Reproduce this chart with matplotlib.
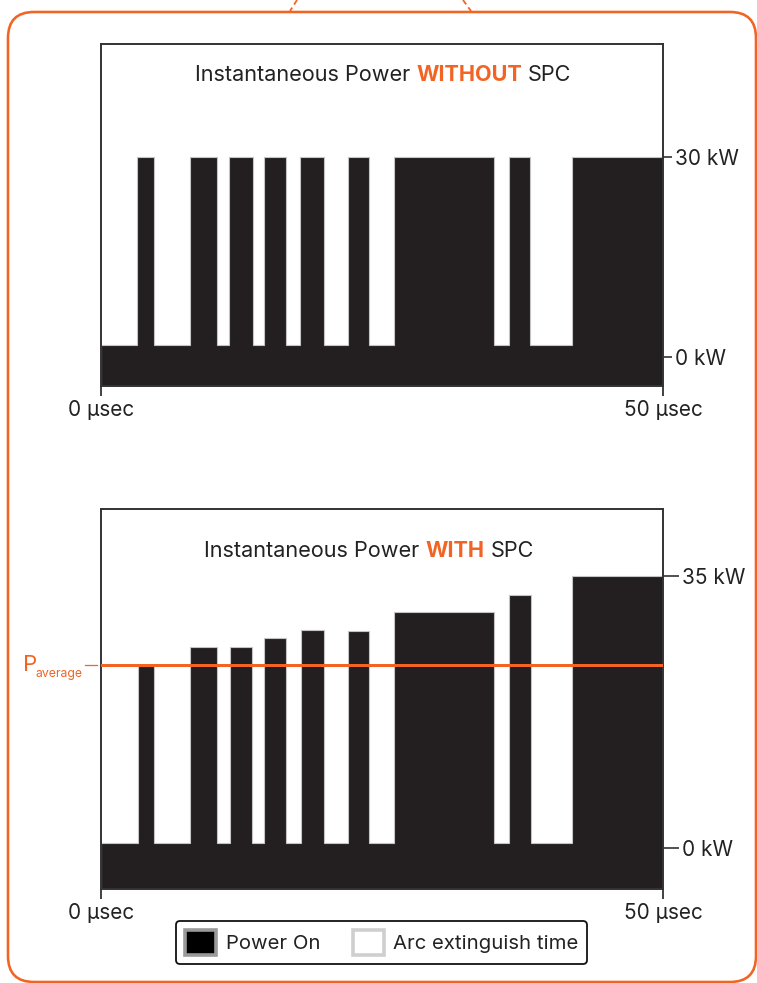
import numpy as np
import matplotlib
matplotlib.use("Agg")
import matplotlib.pyplot as plt
import matplotlib.patches as mpatches
import matplotlib.lines as mlines
from matplotlib.transforms import IdentityTransform, blended_transform_factory

plt.rcParams['font.family'] = ['Inter', 'DejaVu Sans']

# ── data (µsec / kW) ─────────────────────────────────────────────
T_MAX = 50
top_on_start = [3.2, 7.9, 11.4, 14.5, 17.7, 21.95, 26.1, 36.3, 41.9]
top_on_end = [4.7, 10.3, 13.5, 16.45, 19.85, 23.85, 35.0, 38.15, 50]
top_on_level = [30, 30, 30, 30, 30, 30, 30, 30, 30]
top_idle = 1.8

bot_on_start = [3.25, 7.9, 11.45, 14.5, 17.75, 21.95, 26.1, 36.3, 41.9]
bot_on_end = [4.7, 10.35, 13.45, 16.45, 19.8, 23.85, 34.95, 38.25, 50]
bot_on_level = [23.4, 25.9, 25.9, 27.0, 28.1, 28.0, 30.4, 32.6, 35.0]
bot_idle = 0.6
p_average = 23.6

top_yticks = [0, 30]
top_ylabels = ['0 kW', '30 kW']
bot_yticks = [0, 35]
bot_ylabels = ['0 kW', '35 kW']
xticks = [0, T_MAX]
xlabels = ['0 µsec', '50 µsec']

# ── style ───────────────────────────────────────────────────────
ORANGE = '#F26424'
BAR = '#231F20'
SPINE = '#333333'
W, H = 757, 983
PX = 0.72  # points per pixel at dpi 100

fig = plt.figure(figsize=(W / 100, H / 100), dpi=100)
fig.patch.set_facecolor('white')

ax_top = fig.add_axes([101 / W, 1 - 386 / H, 562 / W, 342 / H])
ax_bot = fig.add_axes([101 / W, 1 - 889 / H, 562 / W, 380 / H])


def step_arrays(starts, ends, levels, idle):
    edges = [0]
    vals = []
    for s, e, l in zip(starts, ends, levels):
        edges += [s, e]
        vals += [idle, l]
    if edges[-1] < T_MAX:
        edges.append(T_MAX)
        vals.append(idle)
    return np.array(vals), np.array(edges)


def setup_axis(ax, ylim, yticks, ylabels, ytick_len):
    ax.set_xlim(0, T_MAX)
    ax.set_ylim(*ylim)
    for s in ax.spines.values():
        s.set_color(SPINE)
        s.set_linewidth(1.4)
    ax.set_xticks(xticks)
    ax.set_xticklabels(xlabels)
    ax.yaxis.tick_right()
    ax.set_yticks(yticks)
    ax.set_yticklabels(ylabels)
    ax.tick_params(axis='x', direction='out', length=10 * PX, width=1.3, color=SPINE,
                   labelsize=15, labelcolor='#222222', pad=3)
    ax.tick_params(axis='y', direction='out', length=ytick_len * PX, width=1.2, color=SPINE,
                   labelsize=15, labelcolor='#222222', pad=2)


def draw_wave(ax, starts, ends, levels, idle):
    vals, edges = step_arrays(starts, ends, levels, idle)
    ax.stairs(vals, edges, baseline=ax.get_ylim()[0], fill=True,
              facecolor=BAR, edgecolor='#c4c4c4', linewidth=0.8, zorder=2)


def color_title(ax, parts, xc, yb, fs):
    texts = []
    for s, c, w in parts:
        texts.append(ax.text(0, yb, s, color=c, fontweight=w, fontsize=fs,
                             transform=ax.transAxes, ha='left', va='baseline'))
    fig.canvas.draw()
    r = fig.canvas.get_renderer()
    probe1 = ax.text(0, 0, 'x x', fontsize=fs)
    probe2 = ax.text(0, 0, 'xx', fontsize=fs)
    space = probe1.get_window_extent(r).width - probe2.get_window_extent(r).width
    probe1.remove()
    probe2.remove()
    widths = [t.get_window_extent(r).width for t in texts]
    total = sum(widths) + space * (len(texts) - 1)
    x0_disp = ax.transAxes.transform((xc, yb))[0] - total / 2
    inv = ax.transAxes.inverted()
    x = x0_disp
    for t, w in zip(texts, widths):
        t.set_x(inv.transform((x, 0))[0])
        x += w + space


setup_axis(ax_top, (-4.35, 46.95), top_yticks, top_ylabels, 9)
setup_axis(ax_bot, (-5.28, 43.67), bot_yticks, bot_ylabels, 16)

draw_wave(ax_top, top_on_start, top_on_end, top_on_level, top_idle)
draw_wave(ax_bot, bot_on_start, bot_on_end, bot_on_level, bot_idle)

# average power line + label
ax_bot.axhline(p_average, color=ORANGE, lw=3 * PX, zorder=3)
tr = blended_transform_factory(ax_bot.transAxes, ax_bot.transData)
ax_bot.plot([-0.0285, -0.0071], [p_average, p_average], color=ORANGE, lw=0.9,
            transform=tr, clip_on=False)
ax_bot.annotate('P', xy=(0, p_average), xycoords=tr, xytext=(-78 * PX, -6 * PX),
                textcoords='offset points', color=ORANGE, fontsize=16,
                ha='left', va='baseline', annotation_clip=False)
ax_bot.annotate('average', xy=(0, p_average), xycoords=tr, xytext=(-65 * PX, -12.5 * PX),
                textcoords='offset points', color=ORANGE, fontsize=8.8,
                ha='left', va='baseline', annotation_clip=False)

color_title(ax_top, [('Instantaneous Power', '#222222', 'normal'),
                     ('WITHOUT', ORANGE, 'bold'),
                     ('SPC', '#222222', 'normal')], 0.502, 0.892, 15.6)
color_title(ax_bot, [('Instantaneous Power', '#222222', 'normal'),
                     ('WITH', ORANGE, 'bold'),
                     ('SPC', '#222222', 'normal')], 0.477, 0.873, 15.6)

# legend
handles = [mpatches.Patch(facecolor='black', edgecolor='#9a9a9a', linewidth=2.6, label='Power On'),
           mpatches.Patch(facecolor='white', edgecolor='#cfcfcf', linewidth=2.6, label='Arc extinguish time')]
leg = fig.legend(handles=handles, loc='center', bbox_to_anchor=(381.7 / W, 1 - 942.5 / H),
                 ncol=2, fontsize=14.6, frameon=True, fancybox=True, framealpha=1,
                 edgecolor='#111111', handlelength=1.55, handleheight=1.55,
                 handletextpad=0.45, columnspacing=1.6, borderpad=0.45, borderaxespad=0)
leg.get_frame().set_linewidth(1.3)
for t in leg.get_texts():
    t.set_color('#222222')

# outer orange frame and callout lines
frame = mpatches.FancyBboxPatch((8, 1), 748, 970, boxstyle='round,pad=0,rounding_size=26',
                                transform=IdentityTransform(), facecolor='none',
                                edgecolor=ORANGE, linewidth=2.6 * PX)
fig.patches.append(frame)
for x0, x1 in [(297, 290), (463, 471)]:
    fig.lines.append(mlines.Line2D([x0, x1], [H, H - 11], transform=IdentityTransform(),
                                   color=ORANGE, lw=1.3, linestyle=(0, (3, 2))))

fig.savefig('out.png', dpi=100, facecolor='white')
